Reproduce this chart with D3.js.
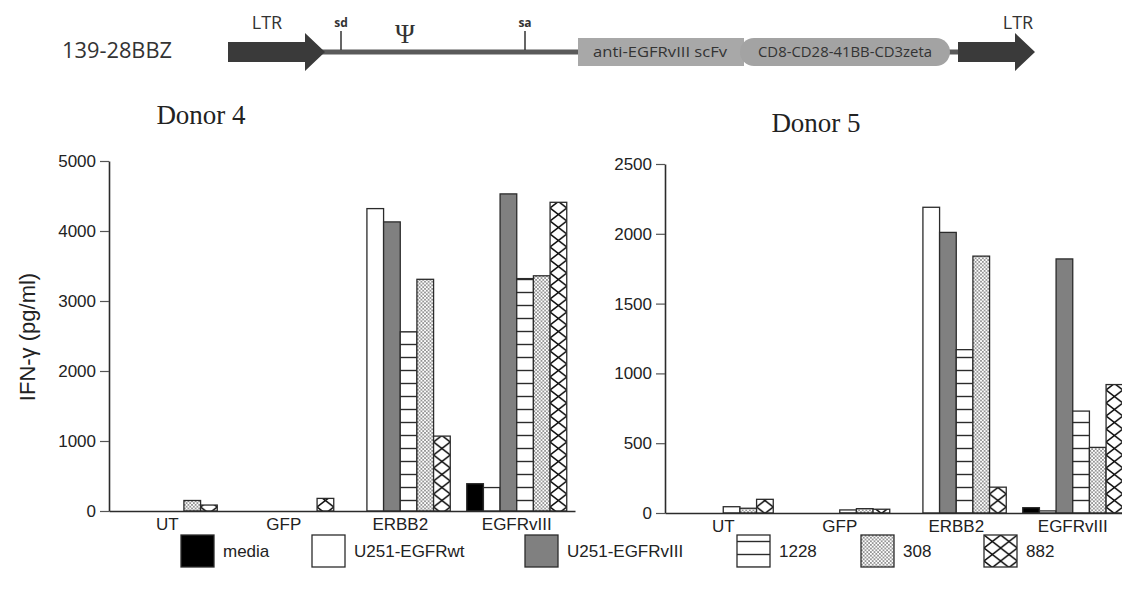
<!DOCTYPE html>
<html>
<head>
<meta charset="utf-8">
<script src="https://cdn.jsdelivr.net/npm/d3@7"></script>
<style>
  body { margin: 0; background: #fff; }
  svg { display: block; }
</style>
</head>
<body>
<svg id="fig" width="1122" height="597"></svg>
<script>
// groups on the x axis and targets (one bar each per group)
const categories = ["UT", "GFP", "ERBB2", "EGFRvIII"];
const targets = ["media", "U251-EGFRwt", "U251-EGFRvIII", "1228", "308", "882"];

// IFN-gamma (pg/ml), Donor 4, in category order
const d4Media = [0, 0, 0, 390];
const d4Wt    = [0, 0, 4320, 335];
const d4VIII  = [0, 0, 4130, 4530];
const d4_1228 = [0, 0, 2560, 3320];
const d4_308  = [150, 0, 3310, 3360];
const d4_882  = [85, 180, 1070, 4410];

// Donor 5
const d5Media = [0, 0, 0, 38];
const d5Wt    = [0, 0, 2190, 15];
const d5VIII  = [0, 0, 2010, 1820];
const d5_1228 = [45, 22, 1170, 730];
const d5_308  = [34, 31, 1840, 470];
const d5_882  = [98, 27, 185, 920];

const ticks4 = [0, 1000, 2000, 3000, 4000, 5000];
const ticks5 = [0, 500, 1000, 1500, 2000, 2500];

const svg = d3.select("#fig");
const font = "'Liberation Sans', Arial, sans-serif";
const ink = "#2b2b2b";

// ---------- patterns ----------
const defs = svg.append("defs");
const barW = 100 / 6;

defs.append("pattern").attr("id", "p1228")
  .attr("patternUnits", "userSpaceOnUse").attr("width", 20).attr("height", 13)
  .call(p => {
    p.append("rect").attr("width", 20).attr("height", 13).attr("fill", "#fff");
    p.append("line").attr("x1", 0).attr("x2", 20).attr("y1", 6.5).attr("y2", 6.5)
      .attr("stroke", ink).attr("stroke-width", 1.4);
  });

defs.append("pattern").attr("id", "p308")
  .attr("patternUnits", "userSpaceOnUse").attr("width", 3.6).attr("height", 3.6)
  .call(p => {
    p.append("rect").attr("width", 3.6).attr("height", 3.6).attr("fill", "#fff");
    p.append("circle").attr("cx", 0.9).attr("cy", 0.9).attr("r", 0.75).attr("fill", "#111");
    p.append("circle").attr("cx", 2.7).attr("cy", 2.7).attr("r", 0.75).attr("fill", "#111");
  });

defs.append("pattern").attr("id", "p882")
  .attr("patternUnits", "userSpaceOnUse").attr("width", barW).attr("height", 13)
  .call(p => {
    p.append("rect").attr("width", barW).attr("height", 13).attr("fill", "#fff");
    p.append("path").attr("d", `M0,0L${barW},13M${barW},0L0,13`)
      .attr("stroke", "#111").attr("stroke-width", 1.5).attr("fill", "none");
  });

const fills = {
  "media": "#000",
  "U251-EGFRwt": "#fff",
  "U251-EGFRvIII": "#808080",
  "1228": "url(#p1228)",
  "308": "url(#p308)",
  "882": "url(#p882)"
};

// ---------- construct diagram ----------
const diagram = svg.append("g").attr("font-family", "'Open Sans', sans-serif").attr("fill", "#333");
diagram.append("text").attr("x", 62).attr("y", 58).attr("font-size", 21)
  .attr("textLength", 110).attr("lengthAdjust", "spacingAndGlyphs").text("139-28BBZ");
diagram.append("rect").attr("x", 320).attr("y", 49.5).attr("width", 640).attr("height", 5).attr("fill", "#5a5a5a");
diagram.append("path").attr("d", "M228,42H305V33L325,52L305,71V62H228Z").attr("fill", "#3a3a3a");
diagram.append("path").attr("d", "M958,42H1015V33L1035,52L1015,71V62H958Z").attr("fill", "#3a3a3a");
diagram.append("text").attr("x", 267).attr("y", 29).attr("text-anchor", "middle").attr("font-size", 18).text("LTR");
diagram.append("text").attr("x", 1018).attr("y", 29).attr("text-anchor", "middle").attr("font-size", 18).text("LTR");
[[341, "sd"], [525, "sa"]].forEach(([x, t]) => {
  diagram.append("line").attr("x1", x).attr("x2", x).attr("y1", 31).attr("y2", 50).attr("stroke", "#333").attr("stroke-width", 1.5);
  diagram.append("text").attr("x", x).attr("y", 27).attr("text-anchor", "middle")
    .attr("font-size", 12).attr("font-weight", "bold").text(t);
});
diagram.append("text").attr("x", 405).attr("y", 43).attr("text-anchor", "middle")
  .attr("font-family", "'Liberation Serif', serif").attr("font-size", 27).text("Ψ");
diagram.append("rect").attr("x", 578).attr("y", 38).attr("width", 166).attr("height", 28).attr("fill", "#a8a8a8");
diagram.append("rect").attr("x", 740).attr("y", 38).attr("width", 210).attr("height", 28).attr("rx", 14).attr("fill", "#a3a3a3");
diagram.append("text").attr("x", 660).attr("y", 57).attr("text-anchor", "middle").attr("font-size", 15)
  .attr("textLength", 134).attr("lengthAdjust", "spacingAndGlyphs").text("anti-EGFRvIII scFv");
diagram.append("text").attr("x", 845).attr("y", 57).attr("text-anchor", "middle").attr("font-size", 15)
  .attr("textLength", 174).attr("lengthAdjust", "spacingAndGlyphs").text("CD8-CD28-41BB-CD3zeta");

// ---------- bar panels ----------
function panel(opt) {
  const g = svg.append("g");
  const x = d3.scaleBand().domain(categories).range([opt.left, opt.left + 466]);
  const x1 = d3.scaleBand().domain(targets).range([0, 100]);
  const y = d3.scaleLinear().domain([0, opt.max]).range([opt.base, opt.topY]);
  const off = (x.bandwidth() - 100) / 2;

  const rows = [];
  categories.forEach((c, i) => {
    targets.forEach((t, j) => rows.push({ cat: c, key: t, v: opt.series[j][i] }));
  });

  g.selectAll("g.bar")
    .data(rows.filter(d => d.v > 0))
    .join("g").attr("class", "bar")
    .attr("transform", d => `translate(${x(d.cat) + off + x1(d.key)},0)`)
    .append("rect")
      .attr("x", 0)
      .attr("y", d => y(d.v))
      .attr("width", x1.bandwidth())
      .attr("height", d => y(0) - y(d.v))
      .attr("fill", d => fills[d.key])
      .attr("stroke", ink).attr("stroke-width", 1.3);

  const ya = g.append("g").attr("transform", `translate(${opt.left},0)`)
    .call(d3.axisLeft(y).tickValues(opt.ticks).tickFormat(d3.format("d"))
      .tickSize(9).tickPadding(4).tickSizeOuter(0));
  const xa = g.append("g").attr("transform", `translate(0,${opt.base})`)
    .call(d3.axisBottom(x).tickSize(0).tickPadding(7));
  [ya, xa].forEach(a => {
    a.selectAll("path.domain").attr("stroke", ink).attr("stroke-width", 1.6);
    a.selectAll(".tick line").attr("stroke", "#555").attr("stroke-width", 1.2);
    a.selectAll("text").attr("font-family", font).attr("font-size", 17).attr("fill", "#222");
  });

  svg.append("text").attr("x", opt.titleX).attr("y", opt.titleY).attr("text-anchor", "middle")
    .attr("font-family", "'Liberation Serif', 'Times New Roman', serif").attr("font-size", 27)
    .attr("fill", "#222").text(opt.title);
}

panel({ left: 109, base: 511, topY: 161, max: 5000, ticks: ticks4,
  series: [d4Media, d4Wt, d4VIII, d4_1228, d4_308, d4_882],
  title: "Donor 4", titleX: 201, titleY: 124 });
panel({ left: 665, base: 513, topY: 164, max: 2500, ticks: ticks5,
  series: [d5Media, d5Wt, d5VIII, d5_1228, d5_308, d5_882],
  title: "Donor 5", titleX: 816, titleY: 132 });

svg.append("text")
  .attr("transform", "translate(35,337) rotate(-90)")
  .attr("text-anchor", "middle").attr("font-family", font).attr("font-size", 22).attr("fill", "#222")
  .text("IFN-γ (pg/ml)");

// ---------- legend ----------
const legendX = [181, 312, 525, 737, 861, 984];
const leg = svg.append("g").selectAll("g").data(targets).join("g")
  .attr("transform", (d, i) => `translate(${legendX[i]},535)`);
leg.append("rect").attr("width", 33).attr("height", 32)
  .attr("fill", d => fills[d]).attr("stroke", ink).attr("stroke-width", 1.3);
leg.append("text").attr("x", 42).attr("y", 22)
  .attr("font-family", font).attr("font-size", 17).attr("fill", "#222").text(d => d);
</script>
</body>
</html>
